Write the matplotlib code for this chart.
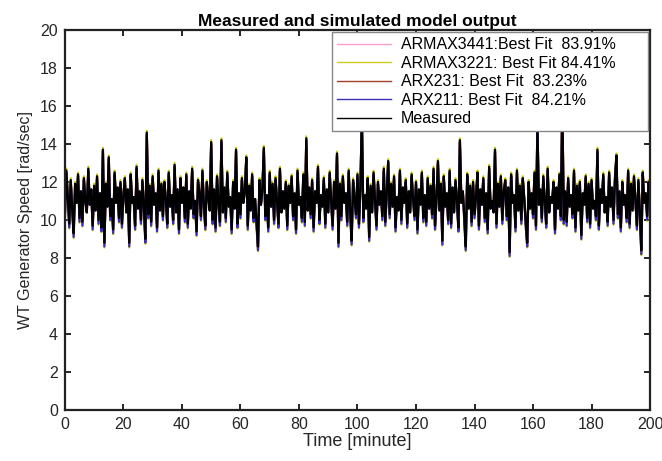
import numpy as np
import matplotlib
matplotlib.use("Agg")
import matplotlib.pyplot as plt

plt.rcParams["font.family"] = ["Liberation Sans", "DejaVu Sans"]

# time axis: one sample every half minute, 0..200 min
t = np.arange(0, 200.5, 0.5)

# measured generator speed [rad/sec]
measured = [
    10.3, 12.6, 11.2, 9.8, 12.1, 10.6, 9.3, 11.9, 10.9, 12.4, 10.1, 11.5, 9.9, 12.2, 11.0, 10.4, 12.7, 10.8, 11.6, 9.7,
    11.8, 10.5, 12.3, 10.0, 11.4, 9.6, 13.7, 8.8, 11.9, 10.7, 13.3, 10.2, 11.1, 9.5, 12.5, 10.9, 11.7, 10.1, 12.0, 9.8,
    11.3, 12.2, 10.4, 11.6, 8.8, 12.4, 10.9, 11.2, 9.7, 12.8, 10.6, 11.5, 10.0, 12.1, 10.7, 9.0, 14.6, 10.3, 11.8, 9.9,
    12.3, 10.8, 11.4, 9.6, 12.6, 10.5, 11.9, 10.2, 12.0, 11.1, 9.8, 12.5, 10.7, 11.3, 10.0, 12.9, 10.4, 11.6, 9.5, 12.2,
    10.9, 11.7, 10.1, 12.4, 9.8, 11.5, 10.6, 12.7, 10.3, 11.0, 9.4, 12.1, 11.4, 10.2, 12.6, 10.8, 9.7, 12.0, 11.2, 10.5,
    14.1, 10.0, 11.6, 9.6, 12.3, 10.9, 9.9, 14.2, 10.4, 11.7, 10.1, 12.5, 10.7, 11.2, 9.5, 12.0, 10.6, 13.7, 9.8, 11.4,
    10.3, 12.2, 10.9, 11.5, 13.3, 9.7, 11.8, 10.5, 12.4, 10.1, 11.1, 9.9, 8.6, 12.1, 10.8, 11.6, 13.8, 10.2, 11.3, 9.6,
    12.5, 10.7, 11.9, 10.0, 12.2, 11.0, 9.8, 12.7, 10.4, 11.5, 10.6, 12.0, 9.7, 11.8, 10.9, 12.3, 10.2, 11.4, 9.5, 12.6,
    10.8, 11.2, 10.1, 12.4, 9.9, 14.3, 10.5, 11.7, 10.3, 12.1, 9.6, 11.5, 10.9, 12.8, 10.0, 11.3, 10.7, 12.2, 9.8, 11.6,
    10.4, 12.5, 11.0, 9.7, 12.0, 10.6, 13.5, 8.8, 11.9, 10.2, 12.3, 10.9, 11.4, 9.9, 12.6, 10.5, 8.9, 12.1, 11.1, 10.3,
    12.4, 9.8, 11.7, 15.5, 10.1, 11.3, 10.6, 12.2, 9.1, 11.8, 10.4, 12.5, 11.0, 9.7, 12.0, 10.8, 11.5, 10.2, 12.7, 9.9,
    11.4, 13.1, 10.3, 11.9, 10.7, 12.3, 9.6, 11.2, 10.5, 12.6, 10.0, 11.7, 10.9, 12.1, 9.8, 11.5, 10.4, 12.4, 11.1, 10.2,
    12.0, 9.5, 11.6, 10.8, 12.5, 10.1, 11.3, 9.9, 12.2, 10.6, 11.8, 10.3, 12.7, 9.7, 11.1, 13.1, 10.5, 11.9, 8.9, 12.3,
    10.7, 11.4, 10.0, 12.6, 9.8, 11.7, 10.4, 12.1, 11.0, 9.6, 14.2, 10.9, 11.5, 10.2, 8.6, 12.4, 10.6, 11.8, 9.9, 12.0,
    10.3, 11.2, 12.5, 9.7, 11.6, 10.8, 12.2, 10.1, 11.4, 9.5, 12.8, 10.6, 11.0, 10.4, 13.7, 9.8, 11.9, 10.7, 12.3, 10.0,
    11.5, 12.1, 10.2, 11.7, 8.3, 12.4, 10.9, 11.3, 9.6, 12.6, 10.5, 11.8, 10.0, 12.2, 11.1, 9.9, 8.8, 12.0, 10.6, 11.4,
    10.3, 12.5, 9.7, 15.0, 10.8, 11.6, 10.1, 12.3, 11.0, 9.8, 12.7, 10.4, 11.2, 10.9, 12.0, 9.5, 11.7, 10.6, 12.4, 10.2,
    16.3, 10.0, 11.5, 9.9, 12.2, 10.7, 11.3, 10.3, 12.6, 9.6, 11.8, 10.5, 12.0, 9.2, 11.4, 10.8, 12.3, 10.1, 11.9, 9.8,
    12.1, 10.6, 11.0, 10.2, 13.7, 9.7, 11.6, 10.9, 12.4, 10.4, 11.2, 9.9, 12.5, 10.7, 11.7, 10.0, 12.2, 13.4, 10.3, 11.5,
    9.6, 12.0, 10.8, 11.3, 10.1, 12.6, 9.8, 11.9, 10.5, 12.3, 11.0, 9.7, 12.1, 10.4, 8.4, 12.5, 10.9, 11.4, 10.2, 12.0,
    11.2,
]

# simulated outputs
armax3441 = [
    10.2, 12.6, 11.2, 9.7, 12.1, 10.6, 9.2, 11.9, 10.9, 12.4, 10.0, 11.5, 9.8, 12.2, 11.0, 10.4, 12.7, 10.8, 11.6, 9.6,
    11.8, 10.5, 12.3, 9.9, 11.4, 9.5, 13.7, 8.7, 11.9, 10.7, 13.3, 10.1, 11.1, 9.4, 12.5, 10.9, 11.7, 10.0, 12.0, 9.7,
    11.3, 12.2, 10.4, 11.6, 8.7, 12.4, 10.9, 11.2, 9.6, 12.8, 10.6, 11.5, 9.9, 12.1, 10.7, 8.9, 14.6, 10.2, 11.8, 9.8,
    12.3, 10.8, 11.4, 9.5, 12.6, 10.5, 11.9, 10.1, 12.0, 11.1, 9.7, 12.5, 10.7, 11.3, 9.9, 12.9, 10.4, 11.6, 9.4, 12.2,
    10.9, 11.7, 10.0, 12.4, 9.7, 11.5, 10.6, 12.7, 10.2, 11.0, 9.3, 12.1, 11.4, 10.1, 12.6, 10.8, 9.6, 12.0, 11.2, 10.5,
    14.1, 9.9, 11.6, 9.5, 12.3, 10.9, 9.8, 14.2, 10.4, 11.7, 10.0, 12.5, 10.7, 11.2, 9.4, 12.0, 10.6, 13.7, 9.7, 11.4,
    10.2, 12.2, 10.9, 11.5, 13.3, 9.6, 11.8, 10.5, 12.4, 10.0, 11.1, 9.8, 8.5, 12.1, 10.8, 11.6, 13.8, 10.1, 11.3, 9.5,
    12.5, 10.7, 11.9, 9.9, 12.2, 11.0, 9.7, 12.7, 10.4, 11.5, 10.6, 12.0, 9.6, 11.8, 10.9, 12.3, 10.1, 11.4, 9.4, 12.6,
    10.8, 11.2, 10.0, 12.4, 9.8, 14.3, 10.5, 11.7, 10.2, 12.1, 9.5, 11.5, 10.9, 12.8, 9.9, 11.3, 10.7, 12.2, 9.7, 11.6,
    10.4, 12.5, 11.0, 9.6, 12.0, 10.6, 13.5, 8.7, 11.9, 10.1, 12.3, 10.9, 11.4, 9.8, 12.6, 10.5, 8.8, 12.1, 11.1, 10.2,
    12.4, 9.7, 11.7, 15.5, 10.0, 11.3, 10.6, 12.2, 9.0, 11.8, 10.4, 12.5, 11.0, 9.6, 12.0, 10.8, 11.5, 10.1, 12.7, 9.8,
    11.4, 13.1, 10.2, 11.9, 10.7, 12.3, 9.5, 11.2, 10.5, 12.6, 9.9, 11.7, 10.9, 12.1, 9.7, 11.5, 10.4, 12.4, 11.1, 10.1,
    12.0, 9.4, 11.6, 10.8, 12.5, 10.0, 11.3, 9.8, 12.2, 10.6, 11.8, 10.2, 12.7, 9.6, 11.1, 13.1, 10.5, 11.9, 8.8, 12.3,
    10.7, 11.4, 9.9, 12.6, 9.7, 11.7, 10.4, 12.1, 11.0, 9.5, 14.2, 10.9, 11.5, 10.1, 8.5, 12.4, 10.6, 11.8, 9.8, 12.0,
    10.2, 11.2, 12.5, 9.6, 11.6, 10.8, 12.2, 10.0, 11.4, 9.4, 12.8, 10.6, 11.0, 10.4, 13.7, 9.7, 11.9, 10.7, 12.3, 9.9,
    11.5, 12.1, 10.1, 11.7, 8.2, 12.4, 10.9, 11.3, 9.5, 12.6, 10.5, 11.8, 9.9, 12.2, 11.1, 9.8, 8.7, 12.0, 10.6, 11.4,
    10.2, 12.5, 9.6, 15.0, 10.8, 11.6, 10.0, 12.3, 11.0, 9.7, 12.7, 10.4, 11.2, 10.9, 12.0, 9.4, 11.7, 10.6, 12.4, 10.1,
    16.3, 9.9, 11.5, 9.8, 12.2, 10.7, 11.3, 10.2, 12.6, 9.5, 11.8, 10.5, 12.0, 9.1, 11.4, 10.8, 12.3, 10.0, 11.9, 9.7,
    12.1, 10.6, 11.0, 10.1, 13.7, 9.6, 11.6, 10.9, 12.4, 10.4, 11.2, 9.8, 12.5, 10.7, 11.7, 9.9, 12.2, 13.4, 10.2, 11.5,
    9.5, 12.0, 10.8, 11.3, 10.0, 12.6, 9.7, 11.9, 10.5, 12.3, 11.0, 9.6, 12.1, 10.4, 8.3, 12.5, 10.9, 11.4, 10.1, 12.0,
    11.2,
]

armax3221 = [
    10.05, 12.7, 11.2, 9.55, 12.2, 10.6, 9.05, 12.0, 10.9, 12.5, 9.85, 11.5, 9.65, 12.3, 11.0, 10.4, 12.8, 10.8, 11.6, 9.45,
    11.9, 10.5, 12.4, 9.75, 11.4, 9.35, 13.8, 8.55, 12.0, 10.7, 13.4, 9.95, 11.1, 9.25, 12.6, 10.9, 11.7, 9.85, 12.1, 9.55,
    11.3, 12.3, 10.4, 11.6, 8.55, 12.5, 10.9, 11.2, 9.45, 12.9, 10.6, 11.5, 9.75, 12.2, 10.7, 8.75, 14.7, 10.05, 11.9, 9.65,
    12.4, 10.8, 11.4, 9.35, 12.7, 10.5, 12.0, 9.95, 12.1, 11.1, 9.55, 12.6, 10.7, 11.3, 9.75, 13.0, 10.4, 11.6, 9.25, 12.3,
    10.9, 11.7, 9.85, 12.5, 9.55, 11.5, 10.6, 12.8, 10.05, 11.0, 9.15, 12.2, 11.4, 9.95, 12.7, 10.8, 9.45, 12.1, 11.2, 10.5,
    14.2, 9.75, 11.6, 9.35, 12.4, 10.9, 9.65, 14.3, 10.4, 11.7, 9.85, 12.6, 10.7, 11.2, 9.25, 12.1, 10.6, 13.8, 9.55, 11.4,
    10.05, 12.3, 10.9, 11.5, 13.4, 9.45, 11.9, 10.5, 12.5, 9.85, 11.1, 9.65, 8.35, 12.2, 10.8, 11.6, 13.9, 9.95, 11.3, 9.35,
    12.6, 10.7, 12.0, 9.75, 12.3, 11.0, 9.55, 12.8, 10.4, 11.5, 10.6, 12.1, 9.45, 11.9, 10.9, 12.4, 9.95, 11.4, 9.25, 12.7,
    10.8, 11.2, 9.85, 12.5, 9.65, 14.4, 10.5, 11.7, 10.05, 12.2, 9.35, 11.5, 10.9, 12.9, 9.75, 11.3, 10.7, 12.3, 9.55, 11.6,
    10.4, 12.6, 11.0, 9.45, 12.1, 10.6, 13.6, 8.55, 12.0, 9.95, 12.4, 10.9, 11.4, 9.65, 12.7, 10.5, 8.65, 12.2, 11.1, 10.05,
    12.5, 9.55, 11.7, 15.6, 9.85, 11.3, 10.6, 12.3, 8.85, 11.9, 10.4, 12.6, 11.0, 9.45, 12.1, 10.8, 11.5, 9.95, 12.8, 9.65,
    11.4, 13.2, 10.05, 12.0, 10.7, 12.4, 9.35, 11.2, 10.5, 12.7, 9.75, 11.7, 10.9, 12.2, 9.55, 11.5, 10.4, 12.5, 11.1, 9.95,
    12.1, 9.25, 11.6, 10.8, 12.6, 9.85, 11.3, 9.65, 12.3, 10.6, 11.9, 10.05, 12.8, 9.45, 11.1, 13.2, 10.5, 12.0, 8.65, 12.4,
    10.7, 11.4, 9.75, 12.7, 9.55, 11.7, 10.4, 12.2, 11.0, 9.35, 14.3, 10.9, 11.5, 9.95, 8.35, 12.5, 10.6, 11.9, 9.65, 12.1,
    10.05, 11.2, 12.6, 9.45, 11.6, 10.8, 12.3, 9.85, 11.4, 9.25, 12.9, 10.6, 11.0, 10.4, 13.8, 9.55, 12.0, 10.7, 12.4, 9.75,
    11.5, 12.2, 9.95, 11.7, 8.05, 12.5, 10.9, 11.3, 9.35, 12.7, 10.5, 11.9, 9.75, 12.3, 11.1, 9.65, 8.55, 12.1, 10.6, 11.4,
    10.05, 12.6, 9.45, 15.1, 10.8, 11.6, 9.85, 12.4, 11.0, 9.55, 12.8, 10.4, 11.2, 10.9, 12.1, 9.25, 11.7, 10.6, 12.5, 9.95,
    16.4, 9.75, 11.5, 9.65, 12.3, 10.7, 11.3, 10.05, 12.7, 9.35, 11.9, 10.5, 12.1, 8.95, 11.4, 10.8, 12.4, 9.85, 12.0, 9.55,
    12.2, 10.6, 11.0, 9.95, 13.8, 9.45, 11.6, 10.9, 12.5, 10.4, 11.2, 9.65, 12.6, 10.7, 11.7, 9.75, 12.3, 13.5, 10.05, 11.5,
    9.35, 12.1, 10.8, 11.3, 9.85, 12.7, 9.55, 12.0, 10.5, 12.4, 11.0, 9.45, 12.2, 10.4, 8.15, 12.6, 10.9, 11.4, 9.95, 12.1,
    11.2,
]

arx231 = [
    10.3, 12.5, 11.2, 9.8, 12.0, 10.6, 9.3, 11.8, 10.9, 12.3, 10.1, 11.5, 9.9, 12.1, 11.0, 10.4, 12.6, 10.8, 11.6, 9.7,
    11.7, 10.5, 12.2, 10.0, 11.4, 9.6, 13.6, 8.8, 11.8, 10.7, 13.2, 10.2, 11.1, 9.5, 12.4, 10.9, 11.7, 10.1, 11.9, 9.8,
    11.3, 12.1, 10.4, 11.6, 8.8, 12.3, 10.9, 11.2, 9.7, 12.7, 10.6, 11.5, 10.0, 12.0, 10.7, 9.0, 14.5, 10.3, 11.7, 9.9,
    12.2, 10.8, 11.4, 9.6, 12.5, 10.5, 11.8, 10.2, 11.9, 11.1, 9.8, 12.4, 10.7, 11.3, 10.0, 12.8, 10.4, 11.6, 9.5, 12.1,
    10.9, 11.7, 10.1, 12.3, 9.8, 11.5, 10.6, 12.6, 10.3, 11.0, 9.4, 12.0, 11.4, 10.2, 12.5, 10.8, 9.7, 11.9, 11.2, 10.5,
    14.0, 10.0, 11.6, 9.6, 12.2, 10.9, 9.9, 14.1, 10.4, 11.7, 10.1, 12.4, 10.7, 11.2, 9.5, 11.9, 10.6, 13.6, 9.8, 11.4,
    10.3, 12.1, 10.9, 11.5, 13.2, 9.7, 11.7, 10.5, 12.3, 10.1, 11.1, 9.9, 8.6, 12.0, 10.8, 11.6, 13.7, 10.2, 11.3, 9.6,
    12.4, 10.7, 11.8, 10.0, 12.1, 11.0, 9.8, 12.6, 10.4, 11.5, 10.6, 11.9, 9.7, 11.7, 10.9, 12.2, 10.2, 11.4, 9.5, 12.5,
    10.8, 11.2, 10.1, 12.3, 9.9, 14.2, 10.5, 11.7, 10.3, 12.0, 9.6, 11.5, 10.9, 12.7, 10.0, 11.3, 10.7, 12.1, 9.8, 11.6,
    10.4, 12.4, 11.0, 9.7, 11.9, 10.6, 13.4, 8.8, 11.8, 10.2, 12.2, 10.9, 11.4, 9.9, 12.5, 10.5, 8.9, 12.0, 11.1, 10.3,
    12.3, 9.8, 11.7, 15.4, 10.1, 11.3, 10.6, 12.1, 9.1, 11.7, 10.4, 12.4, 11.0, 9.7, 11.9, 10.8, 11.5, 10.2, 12.6, 9.9,
    11.4, 13.0, 10.3, 11.8, 10.7, 12.2, 9.6, 11.2, 10.5, 12.5, 10.0, 11.7, 10.9, 12.0, 9.8, 11.5, 10.4, 12.3, 11.1, 10.2,
    11.9, 9.5, 11.6, 10.8, 12.4, 10.1, 11.3, 9.9, 12.1, 10.6, 11.7, 10.3, 12.6, 9.7, 11.1, 13.0, 10.5, 11.8, 8.9, 12.2,
    10.7, 11.4, 10.0, 12.5, 9.8, 11.7, 10.4, 12.0, 11.0, 9.6, 14.1, 10.9, 11.5, 10.2, 8.6, 12.3, 10.6, 11.7, 9.9, 11.9,
    10.3, 11.2, 12.4, 9.7, 11.6, 10.8, 12.1, 10.1, 11.4, 9.5, 12.7, 10.6, 11.0, 10.4, 13.6, 9.8, 11.8, 10.7, 12.2, 10.0,
    11.5, 12.0, 10.2, 11.7, 8.3, 12.3, 10.9, 11.3, 9.6, 12.5, 10.5, 11.7, 10.0, 12.1, 11.1, 9.9, 8.8, 11.9, 10.6, 11.4,
    10.3, 12.4, 9.7, 14.9, 10.8, 11.6, 10.1, 12.2, 11.0, 9.8, 12.6, 10.4, 11.2, 10.9, 11.9, 9.5, 11.7, 10.6, 12.3, 10.2,
    16.2, 10.0, 11.5, 9.9, 12.1, 10.7, 11.3, 10.3, 12.5, 9.6, 11.7, 10.5, 11.9, 9.2, 11.4, 10.8, 12.2, 10.1, 11.8, 9.8,
    12.0, 10.6, 11.0, 10.2, 13.6, 9.7, 11.6, 10.9, 12.3, 10.4, 11.2, 9.9, 12.4, 10.7, 11.7, 10.0, 12.1, 13.3, 10.3, 11.5,
    9.6, 11.9, 10.8, 11.3, 10.1, 12.5, 9.8, 11.8, 10.5, 12.2, 11.0, 9.7, 12.0, 10.4, 8.4, 12.4, 10.9, 11.4, 10.2, 11.9,
    11.2,
]

arx211 = [
    10.1, 12.5, 11.2, 9.6, 12.0, 10.6, 9.1, 11.8, 10.9, 12.3, 9.9, 11.5, 9.7, 12.1, 11.0, 10.4, 12.6, 10.8, 11.6, 9.5,
    11.7, 10.5, 12.2, 9.8, 11.4, 9.4, 13.6, 8.6, 11.8, 10.7, 13.2, 10.0, 11.1, 9.3, 12.4, 10.9, 11.7, 9.9, 11.9, 9.6,
    11.3, 12.1, 10.4, 11.6, 8.6, 12.3, 10.9, 11.2, 9.5, 12.7, 10.6, 11.5, 9.8, 12.0, 10.7, 8.8, 14.5, 10.1, 11.7, 9.7,
    12.2, 10.8, 11.4, 9.4, 12.5, 10.5, 11.8, 10.0, 11.9, 11.1, 9.6, 12.4, 10.7, 11.3, 9.8, 12.8, 10.4, 11.6, 9.3, 12.1,
    10.9, 11.7, 9.9, 12.3, 9.6, 11.5, 10.6, 12.6, 10.1, 11.0, 9.2, 12.0, 11.4, 10.0, 12.5, 10.8, 9.5, 11.9, 11.2, 10.5,
    14.0, 9.8, 11.6, 9.4, 12.2, 10.9, 9.7, 14.1, 10.4, 11.7, 9.9, 12.4, 10.7, 11.2, 9.3, 11.9, 10.6, 13.6, 9.6, 11.4,
    10.1, 12.1, 10.9, 11.5, 13.2, 9.5, 11.7, 10.5, 12.3, 9.9, 11.1, 9.7, 8.4, 12.0, 10.8, 11.6, 13.7, 10.0, 11.3, 9.4,
    12.4, 10.7, 11.8, 9.8, 12.1, 11.0, 9.6, 12.6, 10.4, 11.5, 10.6, 11.9, 9.5, 11.7, 10.9, 12.2, 10.0, 11.4, 9.3, 12.5,
    10.8, 11.2, 9.9, 12.3, 9.7, 14.2, 10.5, 11.7, 10.1, 12.0, 9.4, 11.5, 10.9, 12.7, 9.8, 11.3, 10.7, 12.1, 9.6, 11.6,
    10.4, 12.4, 11.0, 9.5, 11.9, 10.6, 13.4, 8.6, 11.8, 10.0, 12.2, 10.9, 11.4, 9.7, 12.5, 10.5, 8.7, 12.0, 11.1, 10.1,
    12.3, 9.6, 11.7, 15.4, 9.9, 11.3, 10.6, 12.1, 8.9, 11.7, 10.4, 12.4, 11.0, 9.5, 11.9, 10.8, 11.5, 10.0, 12.6, 9.7,
    11.4, 13.0, 10.1, 11.8, 10.7, 12.2, 9.4, 11.2, 10.5, 12.5, 9.8, 11.7, 10.9, 12.0, 9.6, 11.5, 10.4, 12.3, 11.1, 10.0,
    11.9, 9.3, 11.6, 10.8, 12.4, 9.9, 11.3, 9.7, 12.1, 10.6, 11.7, 10.1, 12.6, 9.5, 11.1, 13.0, 10.5, 11.8, 8.7, 12.2,
    10.7, 11.4, 9.8, 12.5, 9.6, 11.7, 10.4, 12.0, 11.0, 9.4, 14.1, 10.9, 11.5, 10.0, 8.4, 12.3, 10.6, 11.7, 9.7, 11.9,
    10.1, 11.2, 12.4, 9.5, 11.6, 10.8, 12.1, 9.9, 11.4, 9.3, 12.7, 10.6, 11.0, 10.4, 13.6, 9.6, 11.8, 10.7, 12.2, 9.8,
    11.5, 12.0, 10.0, 11.7, 8.1, 12.3, 10.9, 11.3, 9.4, 12.5, 10.5, 11.7, 9.8, 12.1, 11.1, 9.7, 8.6, 11.9, 10.6, 11.4,
    10.1, 12.4, 9.5, 14.9, 10.8, 11.6, 9.9, 12.2, 11.0, 9.6, 12.6, 10.4, 11.2, 10.9, 11.9, 9.3, 11.7, 10.6, 12.3, 10.0,
    16.2, 9.8, 11.5, 9.7, 12.1, 10.7, 11.3, 10.1, 12.5, 9.4, 11.7, 10.5, 11.9, 9.0, 11.4, 10.8, 12.2, 9.9, 11.8, 9.6,
    12.0, 10.6, 11.0, 10.0, 13.6, 9.5, 11.6, 10.9, 12.3, 10.4, 11.2, 9.7, 12.4, 10.7, 11.7, 9.8, 12.1, 13.3, 10.1, 11.5,
    9.4, 11.9, 10.8, 11.3, 9.9, 12.5, 9.6, 11.8, 10.5, 12.2, 11.0, 9.5, 12.0, 10.4, 8.2, 12.4, 10.9, 11.4, 10.0, 11.9,
    11.2,
]

labels = [
    "ARMAX3441:Best Fit  83.91%      ",
    "ARMAX3221: Best Fit 84.41%",
    "ARX231: Best Fit  83.23%",
    "ARX211: Best Fit  84.21%",
    "Measured",
]
colors = ["#ff9ec8", "#cccc22", "#a0402a", "#3a2fb8", "black"]

fig = plt.figure(figsize=(6.62, 4.61), dpi=100)
ax = fig.add_axes([0.098, 0.111, 0.884, 0.824])

for y, lab, c in zip([armax3441, armax3221, arx231, arx211, measured], labels, colors):
    ax.plot(t, y, color=c, lw=1.6, label=lab)

ax.set_xlim(0, 200)
ax.set_ylim(0, 20)
ax.set_xticks(np.arange(0, 201, 20))
ax.set_yticks(np.arange(0, 21, 2))
ax.tick_params(direction="in", top=True, right=True, labelsize=11.5, length=4,
               width=1.2, labelcolor="#262626", pad=5)
for s in ax.spines.values():
    s.set_linewidth(1.6)
    s.set_color("#222222")

ax.set_title("Measured and simulated model output", fontsize=12.5, fontweight="bold", pad=3)
ax.set_xlabel("Time [minute]", fontsize=13, labelpad=1, color="#262626")
ax.set_ylabel("WT Generator Speed [rad/sec]", fontsize=11.5, labelpad=5, color="#262626")

leg = ax.legend(loc="upper right", fontsize=11.5, handlelength=3.4, frameon=True,
                fancybox=False, framealpha=1, borderaxespad=0.15, labelspacing=0.22,
                borderpad=0.3, handletextpad=0.6)
leg.get_frame().set_edgecolor("#888888")
leg.get_frame().set_linewidth(1.0)
for ln in leg.get_lines():
    ln.set_linewidth(1.0)

fig.savefig("out.png", dpi=100)
